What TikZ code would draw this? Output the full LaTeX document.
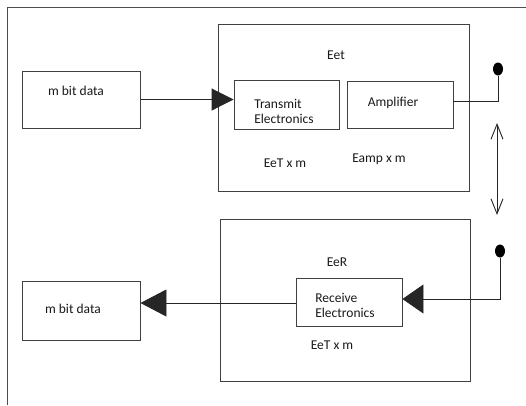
\documentclass[tikz,border=0pt]{standalone}
\usepackage{fontspec}
\setmainfont{Carlito}
\usetikzlibrary{arrows.meta,shapes.geometric}
\begin{document}
\begin{tikzpicture}[x=1pt,y=-1pt,
  box/.style={draw=black!75,line width=0.9pt,rectangle,inner sep=0pt},
  lbl/.style={inner sep=0pt,font=\fontsize{13.5}{15}\selectfont,text=black!90},
  wire/.style={draw=black!85,line width=0.9pt},
  dot/.style={ellipse,fill=black,inner sep=0pt,minimum width=10pt,minimum height=13pt}]
\useasboundingbox (0,0) rectangle (526,405);
\draw[draw=black!70,line width=0.9pt] (7,405) -- (7,7) -- (526,7);
% transmitter side
\node[box,minimum width=118pt,minimum height=57pt] (d1) at (81.5,99.5) {};
\node[lbl] (d1t) at (76,91) {m bit data};
\node[box,minimum width=251pt,minimum height=167pt] (eet) at (343.5,107.5) {};
\node[lbl] (eett) at (336,55) {Eet};
\node[box,minimum width=105pt,minimum height=49pt] (te) at (286.5,104.5) {};
\node[lbl,align=left] (tet) at (284,111.5) {Transmit\\Electronics};
\node[box,minimum width=106pt,minimum height=47pt] (amp) at (400,104.5) {};
\node[lbl] (ampt) at (393,103) {Amplifier};
\node[lbl] (eetx) at (285,163) {EeT x m};
\node[lbl] (eampx) at (379,159) {Eamp x m};
\node[dot] (ant1) at (498,69) {};
% receiver side
\node[box,minimum width=250pt,minimum height=162pt] (eer) at (345,300) {};
\node[lbl] (eert) at (337,262) {EeR};
\node[box,minimum width=106pt,minimum height=48pt] (re) at (349,302) {};
\node[lbl,align=left] (ret) at (345,305) {Receive\\Electronics};
\node[lbl] (eerx) at (332,345) {EeT x m};
\node[box,minimum width=118pt,minimum height=59pt] (d2) at (81,310.5) {};
\node[lbl] (d2t) at (73,309) {m bit data};
\node[dot] (ant2) at (500,251) {};
% link
\coordinate (lk1) at (497,123);
\coordinate (lk2) at (497,215);
% connectors
\draw[wire,-{Triangle[length=22pt,width=22pt]}] (d1.east) -- (te.west |- d1.east);
\draw[wire] ([yshift=3.5pt]amp.east) -| (ant1.south);
\draw[wire,{Straight Barb[length=15pt,width=12pt,line width=0.9pt]}-{Straight Barb[length=15pt,width=12pt,line width=0.9pt]}] (lk1) -- (lk2);
\draw[wire,-{Triangle[length=21pt,width=29pt]}] (ant2.south) |- ([yshift=3pt]re.east);
\draw[wire,-{Triangle[length=26pt,width=27pt]}] ([yshift=-1pt]re.west) -- ([yshift=-1pt]re.west -| d2.east);
\end{tikzpicture}
\end{document}
